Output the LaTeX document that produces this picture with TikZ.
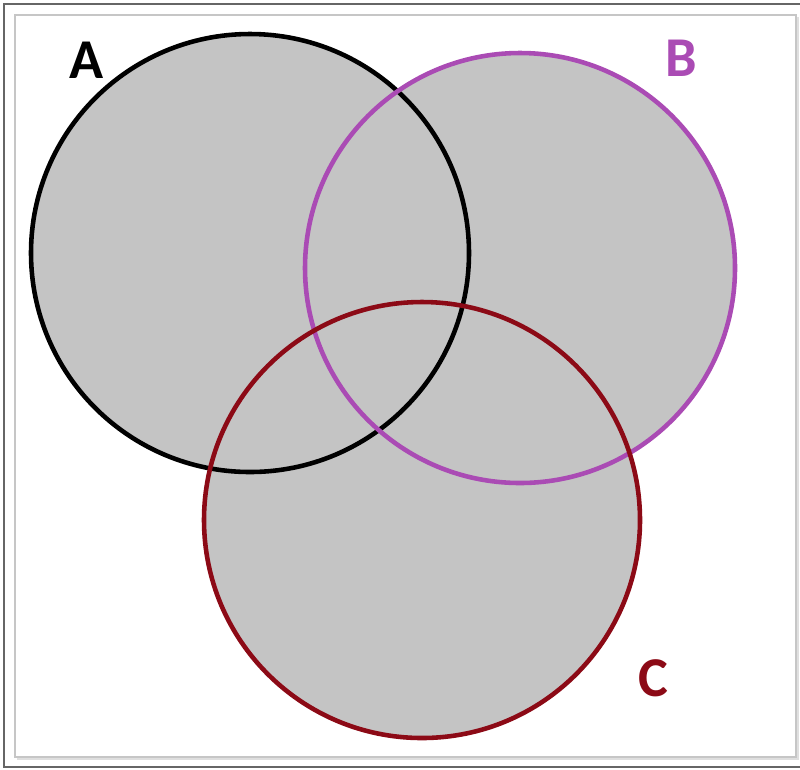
\documentclass[tikz,border=0pt]{standalone}
\usepackage{fontspec}
\setmainfont{Carlito}
\usepackage{tikz}
\usetikzlibrary{calc, positioning}
\usepackage{xcolor}
\definecolor{setA}{RGB}{0, 0, 0}
\definecolor{setB}{RGB}{170, 75, 180}
\definecolor{setC}{RGB}{140, 10, 22}
\definecolor{regionFill}{RGB}{196, 196, 196}

\tikzset{
  ring/.style={line width=2.6pt},
  setlabel/.style={font=\fontsize{32}{32}\selectfont\bfseries, inner sep=0pt}
}

\begin{document}
\begin{tikzpicture}[x=0.02cm, y=-0.02cm]
  \useasboundingbox (0, 0) rectangle (800, 769);

  % frame
  \draw[line width=1pt, gray!80!black] (4, 4) rectangle (805, 767);
  \fill[gray!25] (17, 17) rectangle (799, 760);
  \fill[white] (15, 15) rectangle (796, 757);
  \draw[line width=0.8pt, gray!45] (15, 15) rectangle (796, 757);

  \coordinate (cA) at (250, 253);
  \coordinate (cB) at (520, 268);
  \coordinate (cC) at (422, 520);

  % shaded union
  \fill[regionFill] (cA) circle (219);
  \fill[regionFill] (cB) circle (215);
  \fill[regionFill] (cC) circle (218);

  \draw[ring, setA] (cA) circle (219);
  \draw[ring, setB] (cB) circle (215);
  \draw[ring, setC] (cC) circle (218);

  \node[setlabel, setA] (lA) at (87, 60) {A};
  \node[setlabel, setB] (lB) at (681, 58) {B};
  \node[setlabel, setC] (lC) at (653, 678) {C};
\end{tikzpicture}
\end{document}
